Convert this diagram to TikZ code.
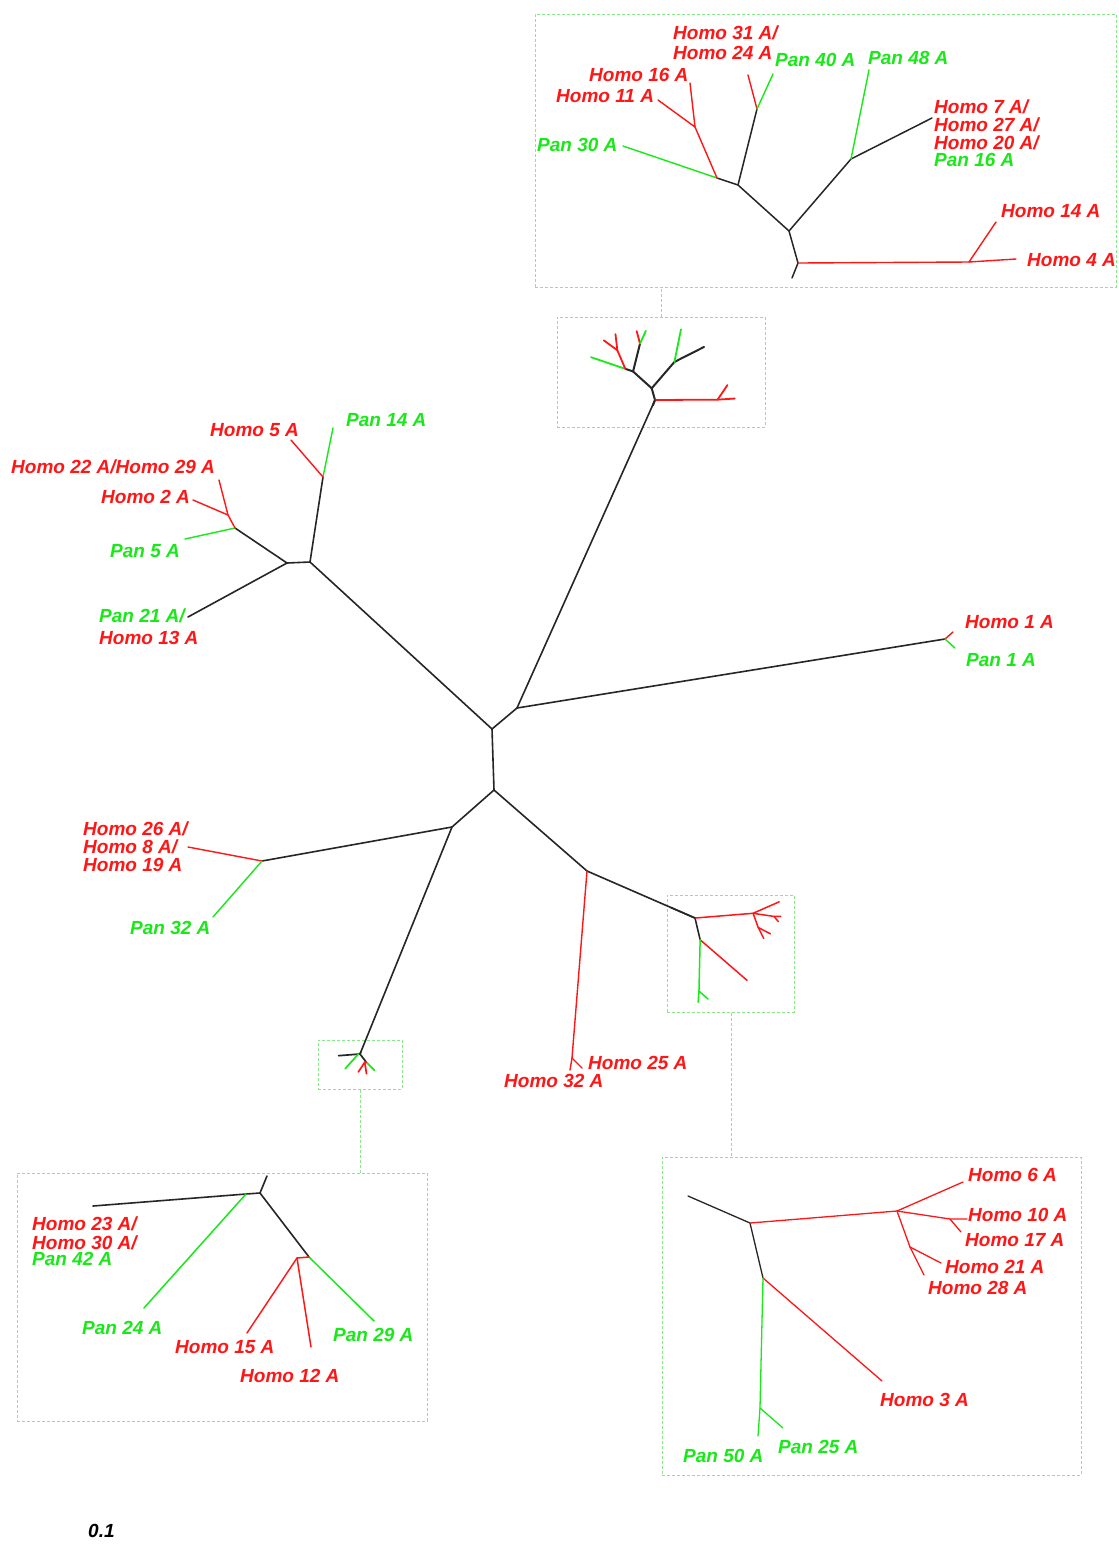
\documentclass[tikz,border=0pt]{standalone}
\usepackage{fontspec}
\setmainfont{Liberation Sans}
\definecolor{myred}{RGB}{255,22,22}
\definecolor{mygreen}{RGB}{25,232,25}
\definecolor{boxgreen}{RGB}{135,232,135}
\newcommand\labfont{\bfseries\itshape\fontsize{19}{19}\selectfont}
\tikzset{
  br/.style={line width=1.6pt, draw=black!85, line cap=round, line join=round},
  rd/.style={line width=1.4pt, draw=myred, line cap=round, line join=round},
  gr/.style={line width=1.4pt, draw=mygreen, line cap=round, line join=round},
  lab/.style={inner sep=0pt, anchor=west, font=\labfont, text height=13.6pt, text depth=0pt},
  hl/.style={lab, text=myred},
  pl/.style={lab, text=mygreen},
  frame/.style={draw=boxgreen, dash pattern=on 3pt off 2pt, line width=0.9pt, inner sep=0pt, anchor=north west},
  link/.style={draw=boxgreen, dash pattern=on 3pt off 2pt, line width=0.9pt}
}
% top cluster
\newcommand\toptree{%
  \coordinate (t0) at (792,278);
  \coordinate (R0) at (798,263);
  \coordinate (R7) at (969,262);
  \coordinate (h14) at (996,222);
  \coordinate (h4) at (1016,259);
  \coordinate (R1) at (789,231);
  \coordinate (R2) at (851,159);
  \coordinate (p48) at (869,70);
  \coordinate (h7) at (932,118);
  \coordinate (R3) at (738,185);
  \coordinate (R4) at (717,178);
  \coordinate (R5) at (757,109);
  \coordinate (h31) at (748,75);
  \coordinate (p40) at (773,74);
  \coordinate (p30) at (623,146);
  \coordinate (R6) at (695,127);
  \coordinate (h16) at (690,83);
  \coordinate (h11) at (658,100);
  \draw[br] (t0) -- (R0) -- (R1) -- (R2) -- (h7);
  \draw[br] (R1) -- (R3) -- (R5);
  \draw[br] (R3) -- (R4);
  \draw[rd] (R0) -- (R7) -- (h14);
  \draw[rd] (R7) -- (h4);
  \draw[gr] (R2) -- (p48);
  \draw[rd] (R5) -- (h31);
  \draw[gr] (R5) -- (p40);
  \draw[gr] (R4) -- (p30);
  \draw[rd] (R4) -- (R6) -- (h16);
  \draw[rd] (R6) -- (h11);
}
% bottom-right cluster
\newcommand\brtree{%
  \coordinate (u0) at (688,1196);
  \coordinate (P0) at (750,1223);
  \coordinate (P1) at (897,1211);
  \coordinate (h6) at (963,1182);
  \coordinate (P2) at (950,1219);
  \coordinate (h10) at (967,1219);
  \coordinate (h17) at (961,1232);
  \coordinate (P3) at (910,1247);
  \coordinate (h21) at (941,1263);
  \coordinate (h28) at (924,1275);
  \coordinate (P4) at (763,1278);
  \coordinate (h3) at (882,1381);
  \coordinate (P5) at (760,1408);
  \coordinate (p50) at (758,1436);
  \coordinate (p25) at (783,1428);
  \draw[br] (u0) -- (P0) -- (P4);
  \draw[rd] (P0) -- (P1) -- (h6);
  \draw[rd] (P1) -- (P2) -- (h10);
  \draw[rd] (P2) -- (h17);
  \draw[rd] (P1) -- (P3) -- (h21);
  \draw[rd] (P3) -- (h28);
  \draw[rd] (P4) -- (h3);
  \draw[gr] (P4) -- (P5) -- (p50);
  \draw[gr] (P5) -- (p25);
}
% bottom-left cluster
\newcommand\bltree{%
  \coordinate (v0) at (267,1176);
  \coordinate (Q0) at (260,1193);
  \coordinate (Q1) at (246,1194);
  \coordinate (h23) at (93,1206);
  \coordinate (p24) at (144,1308);
  \coordinate (Q2) at (309,1257);
  \coordinate (p29) at (374,1321);
  \coordinate (Q3) at (297,1258);
  \coordinate (h15) at (247,1333);
  \coordinate (h12) at (311,1347);
  \draw[br] (v0) -- (Q0) -- (Q1) -- (h23);
  \draw[br] (Q0) -- (Q2);
  \draw[gr] (Q1) -- (p24);
  \draw[gr] (Q2) -- (p29);
  \draw[rd] (Q2) -- (Q3) -- (h15);
  \draw[rd] (Q3) -- (h12);
}
\begin{document}
\begin{tikzpicture}[x=1pt,y=-1pt]
\fill[white] (0,0) rectangle (1119,1551);
\useasboundingbox (0,0) rectangle (1119,1551);

% frames
\node[frame, minimum width=581pt, minimum height=273pt] (boxT) at (535,14) {};
\node[frame, minimum width=208pt, minimum height=110pt] (boxTs) at (557,317) {};
\draw[link] (boxTs.north) -- (boxTs.north |- boxT.south);
\node[frame, minimum width=127pt, minimum height=117pt] (boxRs) at (667,895) {};
\node[frame, minimum width=419pt, minimum height=318pt] (boxR) at (662,1157) {};
\draw[link] (boxRs.south) -- (boxRs.south |- boxR.north);
\node[frame, minimum width=84pt, minimum height=49pt] (boxLs) at (318,1040) {};
\node[frame, minimum width=410pt, minimum height=248pt] (boxL) at (17,1173) {};
\draw[link] (boxLs.south) -- (boxLs.south |- boxL.north);

% cluster copies
\begin{scope}[name prefix=T-, br/.append style={line width=1.5pt}]
  \toptree
\end{scope}
\begin{scope}[name prefix=s-, shift={(655,400)}, scale=0.366, shift={(-798,-263)},
  br/.append style={line width=2pt}, rd/.append style={line width=1.8pt}, gr/.append style={line width=1.8pt}]
  \toptree
\end{scope}
\begin{scope}[name prefix=R-, br/.append style={line width=1.3pt}, rd/.append style={line width=1.3pt}, gr/.append style={line width=1.3pt}]
  \brtree
\end{scope}
\begin{scope}[name prefix=r-, shift={(695,918)}, scale=0.395, shift={(-750,-1223)},
  br/.append style={line width=1.6pt}, rd/.append style={line width=1.5pt}, gr/.append style={line width=1.5pt}]
  \brtree
\end{scope}
\begin{scope}[name prefix=L-, br/.append style={line width=1.6pt}, rd/.append style={line width=1.5pt}, gr/.append style={line width=1.5pt}]
  \bltree
\end{scope}
\begin{scope}[name prefix=b-, shift={(360,1054)}, scale=0.128, shift={(-260,-1193)},
  br/.append style={line width=1.7pt}, rd/.append style={line width=1.7pt}, gr/.append style={line width=1.7pt}]
  \bltree
\end{scope}

% main tree
\coordinate (A) at (492,729);
\coordinate (B) at (494,790);
\coordinate (C) at (517,708);
\coordinate (L1) at (310,562);
\coordinate (L2) at (287,563);
\coordinate (L3) at (323,477);
\coordinate (p14) at (333,428);
\coordinate (h5) at (291,440);
\coordinate (L4) at (235,528);
\coordinate (p5) at (185,539);
\coordinate (L5) at (228,515);
\coordinate (h22) at (219,480);
\coordinate (h2) at (193,500);
\coordinate (p21) at (188,617);
\coordinate (H1) at (945,639);
\coordinate (h1) at (953,632);
\coordinate (p1) at (955,648);
\coordinate (D) at (452,827);
\coordinate (E) at (587,871);
\coordinate (F) at (262,861);
\coordinate (h26) at (188,847);
\coordinate (p32) at (213,917);
\coordinate (N) at (572,1058);
\coordinate (h25) at (582,1068);
\coordinate (h32) at (570,1070);

\draw[br] (A) -- (B);
\draw[br] (A) -- (C);
\draw[br] (A) -- (L1);
\draw[br] (L1) -- (L2);
\draw[br] (L1) -- (L3);
\draw[br] (L2) -- (L4);
\draw[br] (L2) -- (p21);
\draw[br] (C) -- (H1);
\draw[br] (C) -- (s-R0);
\draw[br] (B) -- (D);
\draw[br] (B) -- (E);
\draw[br] (D) -- (F);
\draw[br] (D) -- (b-Q0);
\draw[br] (E) -- (r-P0);
\draw[gr] (L3) -- (p14);
\draw[rd] (L3) -- (h5);
\draw[gr] (L4) -- (p5);
\draw[rd] (L4) -- (L5) -- (h22);
\draw[rd] (L5) -- (h2);
\draw[rd] (H1) -- (h1);
\draw[gr] (H1) -- (p1);
\draw[rd] (F) -- (h26);
\draw[gr] (F) -- (p32);
\draw[rd] (E) -- (N) -- (h25);
\draw[rd] (N) -- (h32);

% labels: top inset
\node[hl] (tl1) at (673,33) {Homo 31 A/};
\node[hl] (tl2) at (673,53) {Homo 24 A};
\node[pl] (tl3) at (775,60) {Pan 40 A};
\node[pl] (tl4) at (868,58) {Pan 48 A};
\node[hl] (tl5) at (589,75) {Homo 16 A};
\node[hl] (tl6) at (556,96) {Homo 11 A};
\node[pl] (tl7) at (537,145) {Pan 30 A};
\node[hl] (tl8) at (934,107) {Homo 7 A/};
\node[hl] (tl9) at (934,125) {Homo 27 A/};
\node[hl] (tl10) at (934,143) {Homo 20 A/};
\node[pl] (tl11) at (934,160) {Pan 16 A};
\node[hl] (tl12) at (1001,211) {Homo 14 A};
\node[hl] (tl13) at (1027,260) {Homo 4 A};
% left cluster
\node[pl] (ll1) at (346,420) {Pan 14 A};
\node[hl] (ll2) at (210,430) {Homo 5 A};
\node[hl] (ll3) at (11,467) {Homo 22 A/Homo 29 A};
\node[hl] (ll4) at (101,497) {Homo 2 A};
\node[pl] (ll5) at (110,551) {Pan 5 A};
\node[pl] (ll6) at (99,616) {Pan 21 A/};
\node[hl] (ll7) at (99,638) {Homo 13 A};
% right
\node[hl] (rl1) at (965,622) {Homo 1 A};
\node[pl] (rl2) at (966,660) {Pan 1 A};
% lower left
\node[hl] (ml1) at (83,829) {Homo 26 A/};
\node[hl] (ml2) at (83,847) {Homo 8 A/};
\node[hl] (ml3) at (83,865) {Homo 19 A};
\node[pl] (ml4) at (130,928) {Pan 32 A};
% middle
\node[hl] (cl1) at (588,1063) {Homo 25 A};
\node[hl] (cl2) at (504,1081) {Homo 32 A};
% bottom-left inset
\node[hl] (bl1) at (32,1224) {Homo 23 A/};
\node[hl] (bl2) at (32,1243) {Homo 30 A/};
\node[pl] (bl3) at (32,1259) {Pan 42 A};
\node[pl] (bl4) at (82,1328) {Pan 24 A};
\node[hl] (bl5) at (175,1347) {Homo 15 A};
\node[pl] (bl6) at (333,1335) {Pan 29 A};
\node[hl] (bl7) at (240,1376) {Homo 12 A};
% bottom-right inset
\node[hl] (rr1) at (968,1175) {Homo 6 A};
\node[hl] (rr2) at (968,1215) {Homo 10 A};
\node[hl] (rr3) at (965,1240) {Homo 17 A};
\node[hl] (rr4) at (945,1267) {Homo 21 A};
\node[hl] (rr5) at (928,1288) {Homo 28 A};
\node[hl] (rr6) at (880,1400) {Homo 3 A};
\node[pl] (rr7) at (683,1456) {Pan 50 A};
\node[pl] (rr8) at (778,1447) {Pan 25 A};
% scale
\node[lab, text=black] (sc) at (88,1531) {0.1};
\end{tikzpicture}
\end{document}
